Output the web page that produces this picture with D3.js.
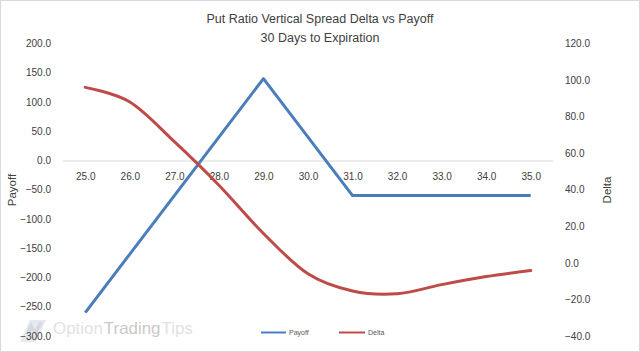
<!DOCTYPE html>
<html><head><meta charset="utf-8">
<script src="https://cdn.jsdelivr.net/npm/d3@7"></script>
<style>body{margin:0;background:#fff}svg{display:block}text{font-family:"Liberation Sans",Arial,sans-serif}</style>
</head><body>
<svg id="c" width="640" height="352"></svg>
<script>
const categories = [25,26,27,28,29,30,31,32,33,34,35];
const payoff = [-260,-160,-60,40,140,40,-60,-60,-60,-60,-60];
const delta = [96.0,88.0,66.3,42.5,16.1,-6.0,-15.4,-16.9,-11.9,-7.5,-4.2];
const leftTicks = [200,150,100,50,0,-50,-100,-150,-200,-250,-300];
const rightTicks = [120,100,80,60,40,20,0,-20,-40];
const title = ["Put Ratio Vertical Spread Delta vs Payoff","30 Days to Expiration"];
const watermark = [["Option","#e2e2e2"],["Trading","#c9c9c9"],["Tips","#e2e2e2"]];

const svg = d3.select("#c");
svg.append("rect").attr("x",0.5).attr("y",0.5).attr("width",639).attr("height",351)
  .attr("fill","#fff").attr("stroke","#d9d9d9");

// watermark
const wm = svg.append("g");
wm.append("path").attr("d","M20,342 L30,320 L46,320 L36,342 Z").attr("fill","#e6e9f0");
wm.append("path").attr("d","M27,330 L31,322 L35,330 L39,322 L43,322 L36,336 L32,330 L30,334 Z").attr("fill","#d4d8e2");
const wts = watermark.map(([t,c])=>wm.append("text").attr("y",334).attr("font-size",19)
  .attr("font-family","'Open Sans',sans-serif").attr("fill",c).text(t));
const total = d3.sum(wts, s=>s.node().getComputedTextLength());
const fs = 19*138/total;
let wx = 53;
wts.forEach(s=>{ s.attr("font-size",fs).attr("x",wx); wx += s.node().getComputedTextLength() + 1; });

const x = d3.scalePoint().domain(categories).range([63,553]).padding(0.5);
const yL = d3.scaleLinear().domain([-300,200]).range([336,43.5]);
const yR = d3.scaleLinear().domain([-40,120]).range([336,43.5]);

// titles
svg.append("text").attr("x",320).attr("y",23).attr("text-anchor","middle").attr("font-size",12.5).attr("fill","#404040").text(title[0]);
svg.append("text").attr("x",320).attr("y",42).attr("text-anchor","middle").attr("font-size",12.5).attr("fill","#404040").text(title[1]);

// left axis
const la = svg.append("g").attr("transform","translate(58,0)")
  .call(d3.axisLeft(yL).tickValues(leftTicks).tickSize(0).tickPadding(7).tickFormat(d3.format(".1f")));
la.select(".domain").remove();
la.selectAll("text").attr("font-size",10).attr("fill","#404040").attr("font-family","'Liberation Sans',Arial,sans-serif");

// right axis
const ra = svg.append("g").attr("transform","translate(558,0)")
  .call(d3.axisRight(yR).tickValues(rightTicks).tickSize(0).tickPadding(7).tickFormat(d3.format(".1f")));
ra.select(".domain").remove();
ra.selectAll("text").attr("font-size",10).attr("fill","#404040").attr("font-family","'Liberation Sans',Arial,sans-serif");

// x axis at payoff 0
const xa = svg.append("g").attr("transform",`translate(0,${yL(0)})`)
  .call(d3.axisBottom(x).tickSize(0).tickPadding(12).tickFormat(d3.format(".1f")));
xa.select(".domain").attr("stroke","#d9d9d9").attr("d",`M${x.range()[0]},0.5H${x.range()[1]}`);
xa.selectAll("text").attr("font-size",10).attr("fill","#404040").attr("font-family","'Liberation Sans',Arial,sans-serif");

// axis titles
svg.append("text").attr("transform","translate(16,190) rotate(-90)").attr("text-anchor","middle").attr("font-size",11.5).attr("fill","#404040").text("Payoff");
svg.append("text").attr("transform","translate(611,190) rotate(-90)").attr("text-anchor","middle").attr("font-size",11.5).attr("fill","#404040").text("Delta");

// lines
const lineP = d3.line().x((d,i)=>x(categories[i])).y(d=>yL(d));
const lineD = d3.line().x((d,i)=>x(categories[i])).y(d=>yR(d)).curve(d3.curveCatmullRom.alpha(0));
svg.append("path").datum(payoff).attr("d",lineP).attr("fill","none").attr("stroke","#4a7ebb").attr("stroke-width",3).attr("stroke-linejoin","round");
svg.append("path").datum(delta).attr("d",lineD).attr("fill","none").attr("stroke","#be4b48").attr("stroke-width",3).attr("stroke-linecap","round");

// legend
const lg = svg.append("g");
lg.append("line").attr("x1",261).attr("x2",286).attr("y1",332.5).attr("y2",332.5).attr("stroke","#4a7ebb").attr("stroke-width",2);
lg.append("text").attr("x",289).attr("y",335).attr("font-size",7).attr("fill","#595959").text("Payoff");
lg.append("line").attr("x1",339).attr("x2",365).attr("y1",332.5).attr("y2",332.5).attr("stroke","#be4b48").attr("stroke-width",2);
lg.append("text").attr("x",368).attr("y",335).attr("font-size",7).attr("fill","#595959").text("Delta");
</script>
</body></html>
